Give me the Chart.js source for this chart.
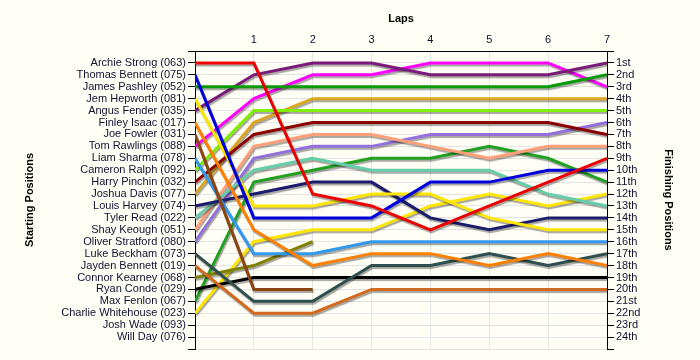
<!DOCTYPE html>
<html>
<head>
<meta charset="utf-8">
<script src="https://cdn.jsdelivr.net/npm/chart.js@4.4.1/dist/chart.umd.min.js"></script>
<style>
  body { margin: 0; background: #fffff5; }
  canvas { display: block; }
</style>
</head>
<body>
<canvas id="lap-chart" width="700" height="360"></canvas>
<script>
// drivers in grid order (car number + name)
const carNumbers = ["063", "075", "052", "081", "035", "017", "031", "088", "078", "092", "032", "077",
  "074", "022", "051", "080", "073", "019", "068", "029", "067", "023", "093", "076"];
const driverNames = ["Archie Strong", "Thomas Bennett", "James Pashley", "Jem Hepworth", "Angus Fender",
  "Finley Isaac", "Joe Fowler", "Tom Rawlings", "Liam Sharma", "Cameron Ralph", "Harry Pinchin",
  "Joshua Davis", "Louis Harvey", "Tyler Read", "Shay Keough", "Oliver Stratford", "Luke Beckham",
  "Jayden Bennett", "Connor Kearney", "Ryan Conde", "Max Fenlon", "Charlie Whitehouse", "Josh Wade", "Will Day"];
const driverColors = ["#ee0000", "#0000dd", "#079a07", "#ffe600", "#7a1a7a", "#ff8000", "#8b4513", "#ff00ff",
  "#3399ee", "#80f000", "#8b0000", "#daa520", "#1c1c6e", "#66cdaa", "#ffa07a", "#9370db", "#2f4f4f",
  "#d2691e", "#808000", "#000000", "#22a022", "#ffe600", "#999999", "#999999"];

// running order at the end of each lap (lap 0 = grid)
const lap0 = carNumbers.slice();
const lap1 = ["063", "035", "052", "088", "092", "077", "032", "051", "080", "022", "067", "074", "081", "075", "017", "023", "078", "068", "029", "031", "073", "019"];
const lap2 = ["035", "088", "052", "077", "092", "032", "051", "080", "022", "067", "074", "063", "081", "075", "023", "068", "078", "017", "029", "031", "073", "019"];
const lap3 = ["035", "088", "052", "077", "092", "032", "051", "080", "067", "022", "074", "081", "063", "075", "023", "078", "017", "073", "029", "019"];
const lap4 = ["088", "035", "052", "077", "092", "032", "080", "051", "067", "022", "075", "081", "023", "074", "063", "078", "017", "073", "029", "019"];
const lap5 = ["088", "035", "052", "077", "092", "032", "080", "067", "051", "022", "075", "023", "063", "081", "074", "078", "073", "017", "029", "019"];
const lap6 = ["088", "035", "052", "077", "092", "032", "080", "051", "067", "075", "063", "022", "023", "074", "081", "078", "017", "073", "029", "019"];
const lap7 = ["035", "052", "088", "077", "092", "080", "032", "051", "063", "075", "067", "023", "022", "074", "081", "078", "073", "017", "029", "019"];
const laps = [lap0, lap1, lap2, lap3, lap4, lap5, lap6, lap7];

const finishLabels = ["1st", "2nd", "3rd", "4th", "5th", "6th", "7th", "8th", "9th", "10th", "11th", "12th",
  "13th", "14th", "15th", "16th", "17th", "18th", "19th", "20th", "21st", "22nd", "23rd", "24th"];

const buildDatasets = () => {
  return carNumbers.map((car, i) => {
    const points = [];
    laps.forEach((order, lap) => {
      const pos = order.indexOf(car);
      if (pos >= 0) points.push({ x: lap, y: pos + 1 });
    });
    return {
      label: driverNames[i],
      data: points,
      borderColor: driverColors[i],
      backgroundColor: driverColors[i],
      borderWidth: 3,
      pointRadius: 0,
      tension: 0,
      yAxisID: "y",
    };
  });
};

// grey drop shadow under each line
const lineShadow = {
  id: "lineShadow",
  beforeDatasetDraw(chart) {
    const ctx = chart.ctx;
    ctx.save();
    ctx.shadowColor = "rgba(0,0,0,0.35)";
    ctx.shadowOffsetX = 1;
    ctx.shadowOffsetY = 2;
    ctx.shadowBlur = 1;
  },
  afterDatasetDraw(chart) {
    chart.ctx.restore();
  },
};

const tickFont = { family: "'Liberation Sans', Arial, sans-serif", size: 11 };
const titleFont = { family: "'Liberation Sans', Arial, sans-serif", size: 11, weight: "bold" };
const gridColor = "rgb(228,228,228)";

const lapChart = new Chart(document.getElementById("lap-chart"), {
  type: "line",
  data: { datasets: buildDatasets() },
  plugins: [lineShadow],
  options: {
    responsive: false,
    animation: false,
    layout: { padding: { left: 0, right: 0, top: 0, bottom: 11 } },
    plugins: { legend: { display: false }, tooltip: { enabled: false } },
    scales: {
      x: {
        type: "linear",
        position: "top",
        min: 0,
        max: 7,
        ticks: {
          stepSize: 1,
          color: "#101030",
          font: tickFont,
          padding: 4,
          maxRotation: 0,
          callback: (v) => (v === 0 ? "" : v),
        },
        grid: { color: gridColor, drawTicks: false },
        border: { color: "#000" },
        title: { display: true, text: "Laps", color: "#000", font: titleFont, padding: { top: 12, bottom: 0 } },
        afterFit: (scale) => { scale.height = 51; },
      },
      y: {
        type: "linear",
        position: "left",
        min: 0,
        max: 25,
        reverse: true,
        ticks: {
          stepSize: 1,
          autoSkip: false,
          color: "#101030",
          font: tickFont,
          padding: 2,
          callback: (v) => (v >= 1 && v <= 24 ? driverNames[v - 1] + " (" + carNumbers[v - 1] + ")" : ""),
        },
        grid: { color: gridColor, tickColor: "#000", tickLength: 7 },
        border: { color: "#000" },
        title: { display: true, text: "Starting Positions", color: "#000", font: titleFont, padding: { top: 23, bottom: 0 } },
        afterFit: (scale) => { scale.width = 195; },
      },
      y2: {
        type: "linear",
        position: "right",
        min: 0,
        max: 25,
        reverse: true,
        ticks: {
          stepSize: 1,
          autoSkip: false,
          color: "#101030",
          font: tickFont,
          padding: 2,
          callback: (v) => (v >= 1 && v <= 24 ? finishLabels[v - 1] : ""),
        },
        grid: { drawOnChartArea: false, tickColor: "#000", tickLength: 7 },
        border: { color: "#000" },
        title: { display: true, text: "Finishing Positions", color: "#000", font: titleFont, padding: { top: 25, bottom: 0 } },
        afterFit: (scale) => { scale.width = 93; },
      },
    },
  },
});
</script>
</body>
</html>
